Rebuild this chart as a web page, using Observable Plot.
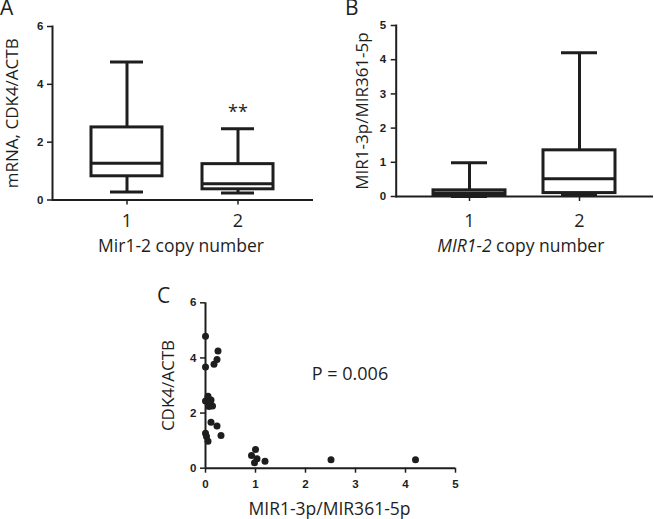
<!DOCTYPE html>
<html><head><meta charset="utf-8">
<script src="https://cdn.jsdelivr.net/npm/d3@7"></script>
<script src="https://cdn.jsdelivr.net/npm/@observablehq/plot@0.6"></script>
<style>
html,body{margin:0;padding:0;background:#fff;}
#wrap{position:relative;width:654px;height:519px;overflow:hidden;background:#fff;}
#wrap svg{position:absolute;overflow:visible;}
.lbl{position:absolute;font-family:"Open Sans",sans-serif;font-size:21px;color:#1e1e1e;line-height:1;}
</style></head><body><div id="wrap"></div>
<script>
// ---- data ----
const categories = ["1", "2"];
// Panel A: mRNA CDK4/ACTB by Mir1-2 copy number (box: min, q1, median, q3, max)
const aMin = [0.28, 0.24];
const aQ1  = [0.82, 0.37];
const aMed = [1.27, 0.56];
const aQ3  = [2.51, 1.24];
const aMax = [4.77, 2.46];
const aSignif = ["", "**"];
const aSignifY = [null, 3.05];
// Panel B: MIR1-3p/MIR361-5p by MIR1-2 copy number
const bMin = [0.0, 0.03];
const bQ1  = [0.04, 0.10];
const bMed = [0.10, 0.52];
const bQ3  = [0.18, 1.35];
const bMax = [0.99, 4.20];
// Panel C: scatter
const mirRatio = [0, 0.25, 0.23, 0.17, 0, 0.05, 0, 0.11, 0.07, 0.14, 0.09, 0.11, 0.23, 0.31, 0, 0.02, 0.05, 1.0, 0.92, 1.03, 1.19, 0.98, 2.51, 4.2];
const cdk4     = [4.79, 4.25, 3.94, 3.77, 3.67, 2.61, 2.44, 2.47, 2.24, 2.26, 2.38, 1.67, 1.53, 1.19, 1.27, 1.15, 0.98, 0.68, 0.46, 0.34, 0.25, 0.20, 0.31, 0.31];
const pLabel = ["P = 0.006"];
const pPos = {x: 2.89, y: 3.4};
// tick labels
const aYTicks = [0, 2, 4, 6];
const bYTicks = [0, 1, 2, 3, 4, 5];
const cXTicks = [0, 1, 2, 3, 4, 5];
const cYTicks = [0, 2, 4, 6];
// titles
const aYTitle = "mRNA, CDK4/ACTB";
const aXTitle = "Mir1-2 copy number";
const bYTitle = "MIR1-3p/MIR361-5p";
const bXTitleParts = [["MIR1-2", true], [" copy number", false]];
const cYTitle = "CDK4/ACTB";
const cXTitle = "MIR1-3p/MIR361-5p";
const panelLetters = ["A", "B", "C"];

// ---- style ----
const ink = "#1e1e1e";
const tickFont = "'Liberation Sans', Arial, sans-serif";
const titleFont = "'Open Sans', sans-serif";
const fmt = d3.format("d");

function boxRows(min, q1, med, q3, max) {
  return categories.map((c, i) => ({cat: c, min: min[i], q1: q1[i], med: med[i], q3: q3[i], max: max[i]}));
}

function yTitleMark(title, dx) {
  return Plot.text([title], {text: d => d, frameAnchor: "left", textAnchor: "middle", lineAnchor: "middle", rotate: -90, dx, fontSize: 17, fontFamily: titleFont, fill: ink});
}
function xTitleMark(title, dx, dy) {
  return Plot.text([title], {text: d => d, frameAnchor: "bottom", textAnchor: "middle", lineAnchor: "middle", dx, dy, fontSize: 17.5, fontFamily: titleFont, fill: ink});
}

function boxPanel(o) {
  const rows = o.rows;
  const marks = [
    Plot.ruleX(rows, {x: "cat", y1: "min", y2: "q1", stroke: ink, strokeWidth: 3}),
    Plot.ruleX(rows, {x: "cat", y1: "q3", y2: "max", stroke: ink, strokeWidth: 3}),
    Plot.tickY(rows, {x: "cat", y: "min", stroke: ink, strokeWidth: 3, insetLeft: o.capInset, insetRight: o.capInset}),
    Plot.tickY(rows, {x: "cat", y: "max", stroke: ink, strokeWidth: 3, insetLeft: o.capInset, insetRight: o.capInset}),
    Plot.barY(rows, {x: "cat", y1: "q1", y2: "q3", fill: "white", stroke: ink, strokeWidth: 3}),
    Plot.tickY(rows, {x: "cat", y: "med", stroke: ink, strokeWidth: 3}),
    Plot.ruleY([0], {stroke: ink, strokeWidth: 2}),
    Plot.frame({anchor: "left", stroke: ink, strokeWidth: 2}),
    Plot.axisY({ticks: o.yTicks, tickFormat: fmt, tickSize: 5, tickPadding: o.yTickPad, fontSize: 11.5, fontWeight: "bold", fontFamily: tickFont, stroke: ink, strokeWidth: 1.5, fill: ink, label: null}),
    Plot.axisX({tickSize: 5, tickPadding: o.xTickPad, fontSize: 18, fontFamily: titleFont, stroke: ink, strokeWidth: 1.5, fill: ink, label: null}),
    yTitleMark(o.yTitle, o.yTitleDx),
    xTitleMark(o.xTitle, o.xTitleDx, o.xTitleDy)
  ];
  if (o.signif) marks.push(Plot.text(o.signif, {x: "cat", y: "y", text: "label", fontSize: 18, fontFamily: titleFont, fill: ink}));
  return Plot.plot({
    width: o.width, height: o.height,
    marginLeft: o.ml, marginRight: o.mr, marginTop: o.mt, marginBottom: o.mb,
    x: {type: "band", domain: categories, paddingInner: o.pi, paddingOuter: o.po},
    y: {domain: o.yDomain},
    style: {background: "transparent", overflow: "visible"},
    marks
  });
}

const wrap = document.getElementById("wrap");

const svgA = boxPanel({
  rows: boxRows(aMin, aQ1, aMed, aQ3, aMax),
  signif: categories.map((c, i) => ({cat: c, label: aSignif[i], y: aSignifY[i]})).filter(d => d.label),
  yDomain: [0, 6], yTicks: aYTicks,
  width: 327, height: 265, ml: 52, mr: 14, mt: 26, mb: 65.5,
  pi: 0.357, po: 0.344, capInset: 19, yTickPad: 4, xTickPad: 9.5,
  yTitle: aYTitle, yTitleDx: -40, xTitle: aXTitle, xTitleDx: -2, xTitleDy: 46
});
svgA.style.left = "0px"; svgA.style.top = "0px";
wrap.appendChild(svgA);

const svgB = boxPanel({
  rows: boxRows(bMin, bQ1, bMed, bQ3, bMax),
  signif: null,
  yDomain: [0, 5], yTicks: bYTicks,
  width: 327, height: 265, ml: 68.7, mr: 1, mt: 25, mb: 69,
  pi: 0.345, po: 0.342, capInset: 18, yTickPad: 5, xTickPad: 13,
  yTitle: bYTitle, yTitleDx: -33.7, xTitle: bXTitleParts.map(d => d[0]).join(""), xTitleDx: -4, xTitleDy: 49.6
});
svgB.style.left = "327px"; svgB.style.top = "0px";
wrap.appendChild(svgB);
// italicize the gene symbol in panel B's x title
d3.select(svgB).selectAll("text").filter(function () { return this.textContent === bXTitleParts.map(d => d[0]).join(""); })
  .each(function () {
    const t = d3.select(this); t.text("");
    bXTitleParts.forEach(([s, it]) => t.append("tspan").attr("font-style", it ? "italic" : null).text(s));
  });

const svgC = Plot.plot({
  width: 654, height: 249,
  marginLeft: 205, marginRight: 199, marginTop: 32.3, marginBottom: 51.3,
  x: {domain: [0, 5]},
  y: {domain: [0, 6]},
  style: {background: "transparent", overflow: "visible"},
  marks: [
    Plot.ruleY([0], {stroke: ink, strokeWidth: 2}),
    Plot.ruleX([0], {stroke: ink, strokeWidth: 2}),
    Plot.axisY({ticks: cYTicks, tickFormat: fmt, tickSize: 5, tickPadding: 4, fontSize: 11.5, fontWeight: "bold", fontFamily: tickFont, stroke: ink, strokeWidth: 1.5, fill: ink, label: null}),
    Plot.axisX({ticks: cXTicks, tickFormat: fmt, tickSize: 5, tickPadding: 7, fontSize: 11.5, fontWeight: "bold", fontFamily: tickFont, stroke: ink, strokeWidth: 1.5, fill: ink, label: null}),
    Plot.dot(mirRatio.map((x, i) => ({x, y: cdk4[i]})), {x: "x", y: "y", r: 3.5, fill: ink, stroke: "none"}),
    Plot.text(pLabel, {x: () => pPos.x, y: () => pPos.y, text: d => d, fontSize: 18, fontFamily: titleFont, fill: ink}),
    yTitleMark(cYTitle, -37),
    xTitleMark(cXTitle, -1, 41)
  ]
});
svgC.style.left = "0px"; svgC.style.top = "270px";
wrap.appendChild(svgC);

// panel letters
const letterPos = [[0, -3], [345, -3], [157, 284.7]];
panelLetters.forEach((L, i) => {
  const d = document.createElement("div");
  d.className = "lbl"; d.textContent = L;
  d.style.left = letterPos[i][0] + "px"; d.style.top = letterPos[i][1] + "px";
  wrap.appendChild(d);
});
</script>
</body></html>
